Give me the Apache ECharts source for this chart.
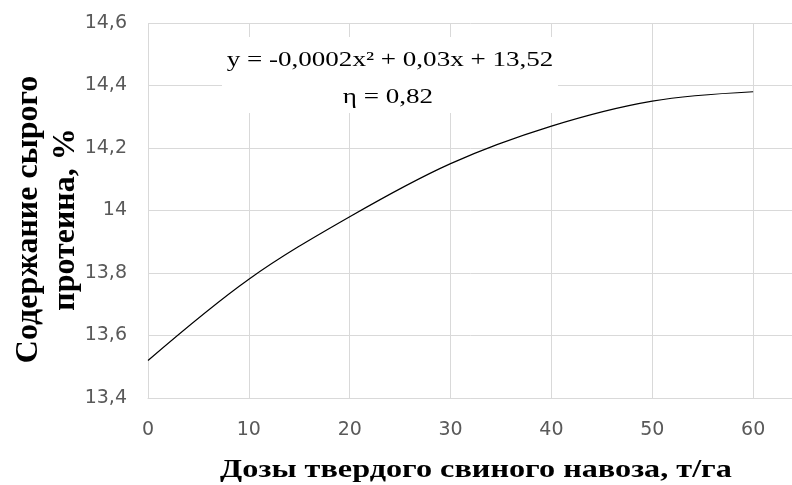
<!DOCTYPE html>
<html>
<head>
<meta charset="utf-8">
<script src="https://cdn.jsdelivr.net/npm/echarts@6/dist/echarts.min.js"></script>
<style>
html,body{margin:0;padding:0;background:#fff;}
#chart{width:792px;height:485px;}
</style>
</head>
<body>
<div id="chart"></div>
<script>
// Data
var doses = [0, 10, 20, 30, 40, 50, 60];
var protein = [13.52, 13.78, 13.98, 14.15, 14.27, 14.35, 14.38];
var xTicks = [0, 10, 20, 30, 40, 50, 60];
var yTicks = [13.4, 13.6, 13.8, 14.0, 14.2, 14.4, 14.6];
var xTitle = 'Дозы твердого свиного навоза, т/га';
var yTitle = 'Содержание сырого\nпротеина, %';
var eqLine1 = 'y = -0,0002x² + 0,03x + 13,52';
var eqLine2 = 'η = 0,82';

var chart = echarts.init(document.getElementById('chart'), null, {renderer: 'canvas'});
var fmt = function (v) {
  var r = Math.round(v * 10) / 10;
  return String(r).replace('.', ',');
};
var points = doses.map(function (d, i) { return [d, protein[i]]; });
var serif = '"Liberation Serif", "Times New Roman", serif';
var sans = '"DejaVu Sans", sans-serif';

chart.setOption({
  animation: false,
  backgroundColor: '#ffffff',
  grid: {left: 148, top: 23, width: 706, height: 375, containLabel: false, outerBoundsMode: 'none'},
  xAxis: {
    type: 'value', min: 0, max: 70, interval: 10,
    axisLine: {show: true, lineStyle: {color: '#d9d9d9', width: 1}},
    axisTick: {show: false},
    splitLine: {show: true, lineStyle: {color: '#d9d9d9', width: 1}},
    axisLabel: {
      color: '#595959', fontFamily: sans, fontSize: 19, margin: 23,
      formatter: function (v) { return xTicks.indexOf(v) >= 0 ? fmt(v) : ''; }
    }
  },
  yAxis: {
    type: 'value', min: yTicks[0], max: yTicks[yTicks.length - 1], interval: 0.2,
    axisLine: {show: false},
    axisTick: {show: false},
    splitLine: {show: true, lineStyle: {color: '#d9d9d9', width: 1}},
    axisLabel: {color: '#595959', fontFamily: sans, fontSize: 19, margin: 21, formatter: fmt},
    name: yTitle,
    nameLocation: 'middle',
    nameRotate: 90,
    nameGap: 64,
    nameMoveOverlap: false,
    nameTextStyle: {
      fontFamily: serif, fontWeight: 'bold', fontSize: 32, color: '#000',
      lineHeight: 37, align: 'center', padding: [0, 18, 0, 0]
    }
  },
  series: [{
    type: 'line',
    data: points,
    smooth: 0.35,
    showSymbol: false,
    symbol: 'none',
    lineStyle: {color: '#000', width: 1.2},
    z: 3
  }],
  graphic: [
    {type: 'rect', z: 100, shape: {x: 222, y: 37, width: 336, height: 76}, style: {fill: '#fff'}},
    {type: 'text', z: 101, x: 390, y: 60, scaleX: 1.23, style: {
      text: eqLine1, font: '22px ' + serif, fill: '#000', textAlign: 'center', textVerticalAlign: 'middle'}},
    {type: 'text', z: 101, x: 388, y: 97, scaleX: 1.23, style: {
      text: eqLine2, font: '22px ' + serif, fill: '#000', textAlign: 'center', textVerticalAlign: 'middle'}},
    {type: 'text', z: 101, x: 476, y: 470, scaleX: 1.24, style: {
      text: xTitle, font: 'bold 26px ' + serif, fill: '#000', textAlign: 'center', textVerticalAlign: 'middle'}}
  ]
});
</script>
</body>
</html>
